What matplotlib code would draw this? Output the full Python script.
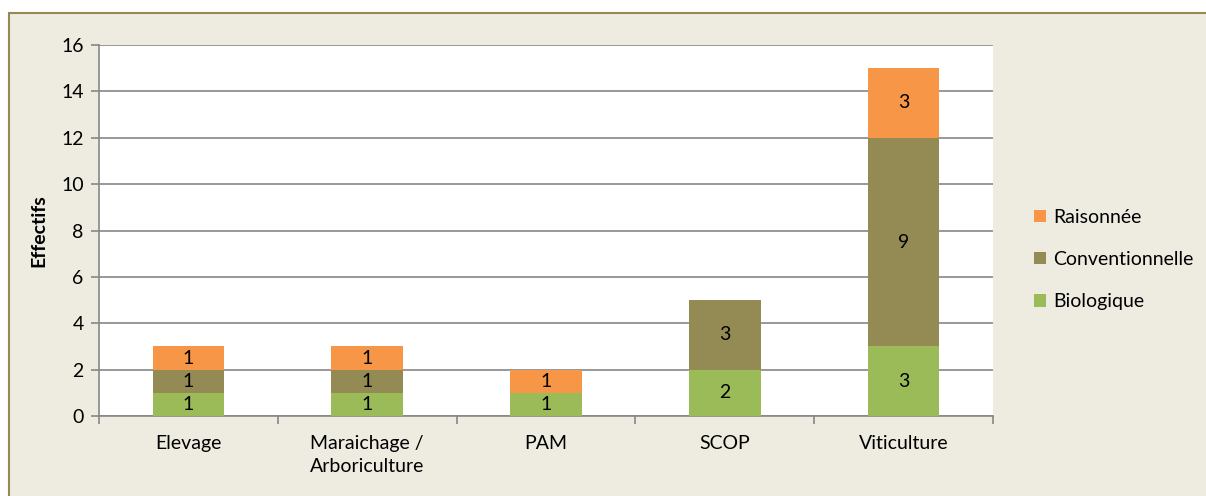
import matplotlib
matplotlib.use("Agg")
import matplotlib.pyplot as plt
from matplotlib.patches import Rectangle
import numpy as np

categories = ["Elevage", "Maraichage /\nArboriculture", "PAM", "SCOP", "Viticulture"]
biologique = [1, 1, 1, 2, 3]
conventionnelle = [1, 1, 0, 3, 9]
raisonnee = [1, 1, 1, 0, 3]
series_names = ["Biologique", "Conventionnelle", "Raisonnée"]
colors = ["#9BBB59", "#948A54", "#F79646"]
yticks = [0, 2, 4, 6, 8, 10, 12, 14, 16]

plt.rcParams['font.family'] = ['Lato', 'DejaVu Sans']
FS = 14

W, H = 1206, 496
fig = plt.figure(figsize=(W/100, H/100), dpi=100)
fig.patch.set_facecolor("white")
fig.patches.append(Rectangle((8.5/W, -0.05), 1.1, 1.05 - 13.5/H, transform=fig.transFigure,
                             facecolor="#EEECE1", edgecolor="#948A54", linewidth=1.5, zorder=-5))

ax = fig.add_axes([99/W, 1 - 416/H, (993-99)/W, (416-45)/H])
ax.set_zorder(2)
ax.set_facecolor("white")
x = np.arange(len(categories))
bw = 0.40
bottom = np.zeros(len(categories))
handles = []
for vals, name, c in zip([biologique, conventionnelle, raisonnee], series_names, colors):
    vals = np.array(vals, dtype=float)
    b = ax.bar(x, vals, bw, bottom=bottom, color=c, label=name, zorder=3)
    handles.append(b)
    for xi, v, bt in zip(x, vals, bottom):
        if v > 0:
            ax.text(xi, bt + v/2, f"{int(v)}", ha="center", va="center", fontsize=FS, color="black", zorder=4)
    bottom += vals

ax.set_xlim(-0.5, len(categories) - 0.5)
ax.set_ylim(0, 16)
ax.set_yticks(yticks)
ax.yaxis.grid(True, color="#868686", linewidth=1.2, zorder=0)
ax.set_axisbelow(True)
for s in ["top", "right"]:
    ax.spines[s].set_visible(False)
for s in ["left", "bottom"]:
    ax.spines[s].set_color("#868686")
    ax.spines[s].set_linewidth(1.2)
ax.set_xticks(x)
ax.set_xticklabels(categories, fontsize=FS, linespacing=1.4)
ax.set_xticks(np.arange(-0.5, len(categories)), minor=True)
ax.tick_params(axis="x", which="major", length=0, pad=14)
ax.tick_params(axis="x", which="minor", length=6, color="#868686", width=1.2)
ax.tick_params(axis="y", length=6, color="#868686", width=1.2, labelsize=FS, pad=5)
ax.set_ylabel("Effectifs", fontsize=FS, fontweight="bold", labelpad=10)

leg = ax.legend(handles[::-1], series_names[::-1], loc="center left", bbox_to_anchor=(1.035, 0.422),
                frameon=False, fontsize=FS, handlelength=0.6, handleheight=0.6,
                handletextpad=0.4, labelspacing=1.3, borderpad=0)

fig.savefig("out.png", dpi=100, facecolor=fig.get_facecolor())
